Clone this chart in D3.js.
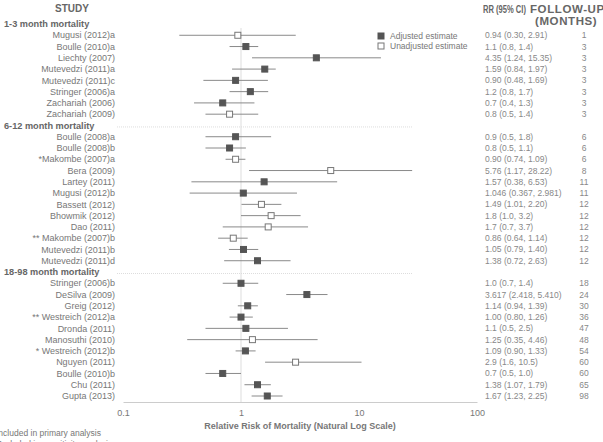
<!DOCTYPE html>
<html><head><meta charset="utf-8">
<script src="https://cdn.jsdelivr.net/npm/d3@7"></script>
<style>
body{margin:0;background:#fff;}
svg{display:block;font-family:"Liberation Sans",Arial,sans-serif;}
</style></head>
<body><svg id="c" width="603" height="442"></svg>
<script>
const groups = ["1-3 month mortality","6-12 month mortality","18-98 month mortality"];
const studies = [
 ["Mugusi (2012)a","Boulle (2010)a","Liechty (2007)","Mutevedzi (2011)a","Mutevedzi (2011)c","Stringer (2006)a","Zachariah (2006)","Zachariah (2009)"],
 ["Boulle (2008)a","Boulle (2008)b","*Makombe (2007)a","Bera (2009)","Lartey (2011)","Mugusi (2012)b","Bassett (2012)","Bhowmik (2012)","Dao (2011)","** Makombe (2007)b","Mutevedzi (2011)b","Mutevedzi (2011)d"],
 ["Stringer (2006)b","DeSilva (2009)","Greig (2012)","** Westreich (2012)a","Dronda (2011)","Manosuthi (2010)","* Westreich (2012)b","Nguyen (2011)","Boulle (2010)b","Chu (2011)","Gupta (2013)"]
];
const rr = [
 [0.94,1.1,4.35,1.59,0.90,1.2,0.7,0.8],
 [0.9,0.8,0.90,5.76,1.57,1.046,1.49,1.8,1.7,0.86,1.05,1.38],
 [1.0,3.617,1.14,1.00,1.1,1.25,1.09,2.9,0.7,1.38,1.67]
];
const lo = [
 [0.30,0.8,1.24,0.84,0.48,0.8,0.4,0.5],
 [0.5,0.5,0.74,1.17,0.38,0.367,1.01,1.0,0.7,0.64,0.79,0.72],
 [0.7,2.418,0.94,0.80,0.5,0.35,0.90,1.6,0.5,1.07,1.23]
];
const hi = [
 [2.91,1.4,15.35,1.97,1.69,1.7,1.3,1.4],
 [1.8,1.1,1.09,28.22,6.53,2.981,2.20,3.2,3.7,1.14,1.40,2.63],
 [1.4,5.410,1.39,1.26,2.5,4.46,1.33,10.5,1.0,1.79,2.25]
];
const rrText = [
 ["0.94 (0.30, 2.91)","1.1 (0.8, 1.4)","4.35 (1.24, 15.35)","1.59 (0.84, 1.97)","0.90 (0.48, 1.69)","1.2 (0.8, 1.7)","0.7 (0.4, 1.3)","0.8 (0.5, 1.4)"],
 ["0.9 (0.5, 1.8)","0.8 (0.5, 1.1)","0.90 (0.74, 1.09)","5.76 (1.17, 28.22)","1.57 (0.38, 6.53)","1.046 (0.367, 2.981)","1.49 (1.01, 2.20)","1.8 (1.0, 3.2)","1.7 (0.7, 3.7)","0.86 (0.64, 1.14)","1.05 (0.79, 1.40)","1.38 (0.72, 2.63)"],
 ["1.0 (0.7, 1.4)","3.617 (2.418, 5.410)","1.14 (0.94, 1.39)","1.00 (0.80, 1.26)","1.1 (0.5, 2.5)","1.25 (0.35, 4.46)","1.09 (0.90, 1.33)","2.9 (1.6, 10.5)","0.7 (0.5, 1.0)","1.38 (1.07, 1.79)","1.67 (1.23, 2.25)"]
];
const followUp = [
 [1,3,3,3,3,3,3,3],
 [6,6,6,8,11,11,12,12,12,12,12,12],
 [18,24,30,36,47,48,54,60,60,65,98]
];
const adjusted = [
 [0,1,1,1,1,1,1,0],
 [1,1,0,0,1,1,0,0,0,0,1,1],
 [1,1,1,1,1,0,1,0,1,1,1]
];
const tickValues = [0.1,1,10,100];
const legendLabels = ["Adjusted estimate","Unadjusted estimate"];

// build rows
const rows = [];
let slot = 0;
groups.forEach((g,gi)=>{
  rows.push({type:"header",label:g,slot:slot++});
  studies[gi].forEach((s,i)=>{
    rows.push({type:"study",label:s,slot:slot++,rr:rr[gi][i],lo:lo[gi][i],hi:hi[gi][i],
      txt:rrText[gi][i],fu:followUp[gi][i],adj:adjusted[gi][i]});
  });
});

const svg = d3.select("#c");
const x = d3.scaleLog().domain([0.1,100]).range([123,477]);
const y = d3.scaleLinear().domain([0,slot-1]).range([24,396]);

// vertical reference line at 1
svg.append("line").attr("x1",x(1)).attr("x2",x(1)).attr("y1",28).attr("y2",402)
  .attr("stroke","#ddd").attr("stroke-width",1);

// group separators
rows.filter(r=>r.type==="header" && r.slot>0).forEach(r=>{
  svg.append("line").attr("x1",117).attr("x2",412).attr("y1",y(r.slot)+1.5).attr("y2",y(r.slot)+1.5)
    .attr("stroke","#ddd").attr("stroke-dasharray","1,1");
});

// axis
const axis = d3.axisBottom(x).tickValues(tickValues).tickFormat(d=>d3.format("~g")(d)).tickSize(0).tickPadding(8);
const ag = svg.append("g").attr("transform","translate(0,402)").call(axis);
ag.select(".domain").attr("stroke","#ccc");
ag.selectAll("text").attr("fill","#777").attr("font-size","9px").attr("font-family","Liberation Sans, Arial, sans-serif");
svg.append("text").attr("x",300).attr("y",429).attr("text-anchor","middle")
  .attr("font-size","9px").attr("font-weight","bold").attr("fill","#777")
  .text("Relative Risk of Mortality (Natural Log Scale)");

// headers
svg.append("text").attr("x",72).attr("y",12).attr("text-anchor","middle").attr("font-size","10px")
  .attr("font-weight","bold").attr("fill","#666").text("STUDY");
const rrHead = svg.append("text").attr("x",0).attr("y",0).attr("font-size","10.5px")
  .attr("font-weight","bold").attr("fill","#666").text("RR (95% CI)");
const rrW = rrHead.node().getComputedTextLength();
rrHead.attr("transform",`translate(483,12.5) scale(${43/rrW},1)`);
svg.append("text").attr("x",530).attr("y",12.5).attr("font-size","11.5px").attr("letter-spacing","0.6")
  .attr("font-weight","bold").attr("fill","#666").text("FOLLOW-UP");
svg.append("text").attr("x",535).attr("y",25).attr("font-size","11.5px").attr("letter-spacing","0.6")
  .attr("font-weight","bold").attr("fill","#666").text("(MONTHS)");

// group labels
rows.filter(r=>r.type==="header").forEach(r=>{
  svg.append("text").attr("x",4).attr("y",y(r.slot)).attr("dy","0.35em")
    .attr("font-size","9.2px").attr("font-weight","bold").attr("fill","#666").text(r.label);
});

const sr = rows.filter(r=>r.type==="study");
// study labels
svg.selectAll("text.study").data(sr).enter().append("text").attr("class","study")
  .attr("x",115).attr("y",d=>y(d.slot)).attr("dy","0.35em").attr("text-anchor","end")
  .attr("font-size","9px").attr("fill","#777").text(d=>d.label);
// CI lines
svg.selectAll("line.ci").data(sr).enter().append("line").attr("class","ci")
  .attr("x1",d=>x(d.lo)).attr("x2",d=>x(d.hi)).attr("y1",d=>y(d.slot)).attr("y2",d=>y(d.slot))
  .attr("stroke","#8a8a8a").attr("stroke-width",1);
// markers
const s = 6;
svg.selectAll("rect.pt").data(sr).enter().append("rect").attr("class","pt")
  .attr("x",d=>x(d.rr)-s/2).attr("y",d=>y(d.slot)-s/2).attr("width",s).attr("height",s)
  .attr("fill",d=>d.adj?"#555":"#fff").attr("stroke",d=>d.adj?"#555":"#777").attr("stroke-width",1);
// RR text
svg.selectAll("text.rr").data(sr).enter().append("text").attr("class","rr")
  .attr("x",485).attr("y",d=>y(d.slot)).attr("dy","0.35em")
  .attr("font-size","8.5px").attr("fill","#888").text(d=>d.txt);
svg.selectAll("text.fu").data(sr).enter().append("text").attr("class","fu")
  .attr("x",584).attr("y",d=>y(d.slot)).attr("dy","0.35em").attr("text-anchor","middle")
  .attr("font-size","8.5px").attr("fill","#888").text(d=>d.fu);

// legend
legendLabels.forEach((l,i)=>{
  const ly = 36 + i*10;
  svg.append("rect").attr("x",378).attr("y",ly-3).attr("width",6).attr("height",6)
    .attr("fill",i===0?"#555":"#fff").attr("stroke",i===0?"#555":"#777");
  svg.append("text").attr("x",390).attr("y",ly).attr("dy","0.35em").attr("font-size","8.5px")
    .attr("fill","#777").text(l);
});

// footnotes (partially clipped at left/bottom in the original)
svg.append("text").attr("x",-4).attr("y",436).attr("font-size","8.5px").attr("fill","#777")
  .text("Included in primary analysis");
svg.append("text").attr("x",-4).attr("y",447).attr("font-size","8.5px").attr("fill","#777")
  .text("Excluded in sensitivity analysis");
</script></body></html>
